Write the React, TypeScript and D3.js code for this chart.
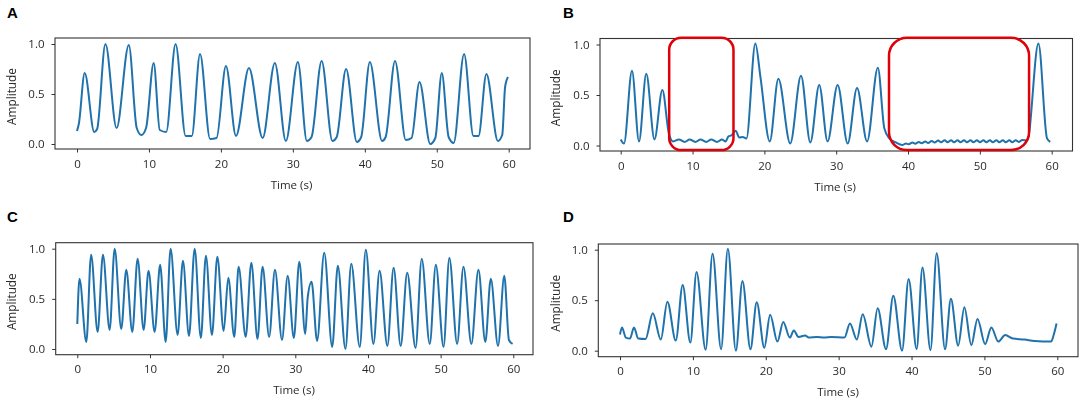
import React, { useEffect, useRef } from "react";
import * as d3 from "d3";

const xTicks = [0, 10, 20, 30, 40, 50, 60];
const yTicks = [0, 0.5, 1];

// panel A: turning points of the trace
const timeA = [0, 0.25, 1.07, 2.4, 2.8, 3.95, 5.5, 7.2, 8.3, 8.95, 9.6, 10.66, 11.5, 12.4, 13.7, 15.1, 15.95, 17.1, 18.5, 19.4, 20.7, 22.1, 23.9, 25.8, 27.5, 29.03, 30.7, 31.95, 32.6, 34, 35.5, 36.1, 37.4, 38.9, 39.5, 40.7, 42.4, 42.9, 44.2, 45.7, 46.5, 47.6, 49.1, 49.8, 50.7, 51.65, 52.35, 53.8, 55.1, 55.8, 56.9, 58.5, 59.1, 59.5, 59.9];
const ampA = [0.13, 0.2, 0.71, 0.12, 0.15, 1.0, 0.16, 0.99, 0.16, 0.09, 0.16, 0.81, 0.14, 0.12, 1.0, 0.08, 0.08, 0.9, 0.05, 0.06, 0.78, 0.08, 0.76, 0.06, 0.81, 0.03, 0.82, 0.03, 0.07, 0.83, 0.03, 0.07, 0.75, 0.02, 0.07, 0.82, 0.03, 0.07, 0.83, 0.04, 0.06, 0.62, 0, 0.06, 0.71, 0.07, 0.01, 0.9, 0.08, 0.08, 0.7, 0.03, 0.09, 0.57, 0.67];

const timeB = [0, 0.46, 1.57, 2.55, 3.56, 4.7, 5.8, 6.7, 7.3, 8.1, 8.9, 9.6, 10.4, 11.1, 11.9, 12.6, 13.4, 14.1, 14.6, 15, 15.4, 16, 16.5, 16.95, 17.5, 18.75, 19.45, 20.75, 21.95, 23.6, 25.1, 26.4, 27.64, 28.8, 30.2, 31.6, 32.9, 34.3, 35.8, 36.7, 37.4, 38.3, 39.2, 39.7, 40.1, 40.6, 41, 41.5, 41.9, 42.4, 42.8, 43.3, 43.7, 44.2, 44.6, 45.1, 45.5, 46, 46.4, 46.9, 47.3, 47.8, 48.2, 48.7, 49.1, 49.6, 50, 50.5, 50.9, 51.4, 51.8, 52.3, 52.7, 53.2, 53.6, 54.1, 54.5, 55, 55.4, 55.9, 56.6, 58.15, 59.35, 59.8];
const ampB = [0.06, 0.02, 0.74, 0.04, 0.71, 0.06, 0.55, 0.12, 0.04, 0.06, 0.035, 0.06, 0.035, 0.06, 0.035, 0.06, 0.035, 0.06, 0.04, 0.09, 0.1, 0.145, 0.08, 0.085, 0.07, 1.01, 0.68, 0.04, 0.66, 0.02, 0.69, 0.03, 0.6, 0.04, 0.6, 0.02, 0.57, 0.04, 0.77, 0.17, 0.07, 0.03, 0.005, 0.02, 0.012, 0.03, 0.018, 0.035, 0.022, 0.04, 0.025, 0.045, 0.03, 0.05, 0.032, 0.052, 0.033, 0.052, 0.033, 0.052, 0.033, 0.052, 0.033, 0.052, 0.033, 0.052, 0.033, 0.052, 0.033, 0.052, 0.033, 0.052, 0.033, 0.052, 0.033, 0.052, 0.033, 0.052, 0.035, 0.055, 0.05, 1.01, 0.07, 0.035];

const timeC = [0, 0.3, 1.24, 1.9, 2.8, 3.53, 4.45, 5.14, 6.05, 6.74, 7.57, 8.3, 9.13, 9.8, 10.64, 11.4, 12.16, 12.84, 13.8, 14.54, 15.37, 16.15, 17, 17.7, 18.53, 19.27, 20.14, 20.78, 21.6, 22.2, 23.17, 23.95, 24.8, 25.5, 26.4, 27.2, 28.17, 28.95, 29.8, 30.55, 31.37, 31.7, 32.24, 33, 33.98, 35.08, 35.85, 36.9, 37.7, 38.87, 39.7, 40.75, 41.6, 42.67, 43.53, 44.5, 45.4, 46.55, 47.4, 48.5, 49.34, 50.4, 51.2, 52.27, 53.14, 54.23, 55.2, 56.15, 56.9, 57.9, 58.76, 59.4, 59.9];
const ampC = [0.25, 0.7, 0.07, 0.94, 0.17, 0.94, 0.19, 1.0, 0.2, 0.79, 0.17, 0.9, 0.19, 0.78, 0.17, 0.84, 0.07, 1.0, 0.14, 0.88, 0.13, 1.0, 0.11, 0.93, 0.14, 0.92, 0.18, 0.71, 0.12, 0.82, 0.12, 0.86, 0.1, 0.82, 0.12, 0.79, 0.09, 0.73, 0.11, 0.87, 0.15, 0.51, 0.67, 0.08, 0.96, 0.02, 0.83, 0, 0.85, 0.02, 0.99, 0.05, 0.78, 0.03, 0.81, 0.03, 0.76, 0.01, 0.9, 0.05, 0.84, 0.02, 0.91, 0.05, 0.82, 0.05, 0.79, 0.07, 0.7, 0.03, 0.73, 0.09, 0.05];

const timeD = [0, 0.27, 0.8, 1.37, 1.92, 2.5, 3.5, 4.5, 5.6, 6.5, 7.65, 8.6, 9.65, 10.5, 11.75, 12.7, 13.87, 14.8, 15.9, 16.8, 17.9, 18.76, 19.8, 20.6, 21.6, 22.4, 23.3, 23.85, 24.5, 25.4, 25.9, 27, 28, 29, 30.8, 31.55, 32.5, 33.3, 34.5, 35.35, 36.5, 37.5, 38.7, 39.6, 40.7, 41.5, 42.6, 43.45, 44.6, 45.4, 46.4, 47.25, 48.2, 49.05, 50.1, 50.95, 51.9, 52.85, 53.9, 55.5, 56.9, 59.15, 59.5, 59.9];
const ampD = [0.16, 0.23, 0.13, 0.12, 0.23, 0.12, 0.115, 0.37, 0.11, 0.485, 0.1, 0.65, 0.08, 0.78, 0.01, 0.96, 0.015, 1.01, 0, 0.69, 0.015, 0.48, 0.03, 0.355, 0.09, 0.285, 0.13, 0.2, 0.135, 0.15, 0.13, 0.135, 0.13, 0.135, 0.13, 0.27, 0.11, 0.36, 0.04, 0.42, 0.015, 0.545, 0, 0.71, 0.015, 0.825, 0.005, 0.965, 0.015, 0.515, 0.05, 0.43, 0.055, 0.315, 0.065, 0.23, 0.09, 0.155, 0.12, 0.11, 0.095, 0.09, 0.155, 0.27];

// red boxes in panel B, as [from, to] seconds
const boxesB = [[6.75, 15.7, 12], [37.35, 56.85, 18]];
const boxAmps = [1.067, -0.045];

const panels = [
  { letter: "A", time: timeA, amp: ampA, boxes: [], frame: [55, 530, 38, 149], xr: [77, 508.7], yr: [144, 44], letterPos: [7, 18], ampX: 15.5, timeX: 291.5, timeY: 189 },
  { letter: "B", time: timeB, amp: ampB, boxes: boxesB, frame: [600, 1072.5, 38.5, 151], xr: [620.7, 1051.7], yr: [145.5, 44.5], letterPos: [563, 18], ampX: 560, timeX: 835, timeY: 191 },
  { letter: "C", time: timeC, amp: ampC, boxes: [], frame: [55.7, 533, 242.7, 354.7], xr: [77.3, 513.3], yr: [349, 248.7], letterPos: [7, 222], ampX: 15.5, timeX: 294, timeY: 394 },
  { letter: "D", time: timeD, amp: ampD, boxes: [], frame: [598.3, 1078, 244, 356.7], xr: [620, 1057.3], yr: [350.7, 249.7], letterPos: [563, 222], ampX: 559.5, timeX: 838, timeY: 396 },
];

const labelFont = "'Open Sans', sans-serif";

export default function App() {
  const ref = useRef<SVGSVGElement>(null);

  useEffect(() => {
    const svg = d3.select(ref.current);
    svg.selectAll("*").remove();

    panels.forEach((p) => {
      const [left, right, top, bottom] = p.frame;
      const x = d3.scaleLinear().domain([0, 60]).range(p.xr);
      const y = d3.scaleLinear().domain([0, 1]).range(p.yr);
      const g = svg.append("g");
      // the reference is a soft, upscaled raster
      const soft = g.append("g").style("filter", "blur(0.35px)");

      const line = d3.line<number>()
        .x((d) => x(d))
        .y((_, i) => y(p.amp[i]))
        .curve(d3.curveMonotoneX);

      soft.append("path")
        .datum(p.time)
        .attr("fill", "none")
        .attr("stroke", "#1f72ac")
        .attr("stroke-width", 2)
        .attr("stroke-linejoin", "round")
        .attr("d", line);

      soft.append("rect")
        .attr("x", left)
        .attr("y", top)
        .attr("width", right - left)
        .attr("height", bottom - top)
        .attr("fill", "none")
        .attr("stroke", "#333")
        .attr("stroke-width", 1.1);

      // axes
      const xAxis = soft.append("g")
        .attr("transform", `translate(0,${bottom})`)
        .call(d3.axisBottom(x).tickValues(xTicks).tickFormat(d3.format("d")).tickSize(3.5).tickPadding(7));
      const yAxis = soft.append("g")
        .attr("transform", `translate(${left},0)`)
        .call(d3.axisLeft(y).tickValues(yTicks).tickFormat(d3.format(".1f")).tickSize(3.5).tickPadding(7));
      [xAxis, yAxis].forEach((a) => {
        a.select(".domain").remove();
        a.selectAll("line").attr("stroke", "#333");
        a.selectAll("text").attr("font-family", labelFont).attr("font-size", 11.5).attr("fill", "#2a2a2a");
      });

      soft.append("text")
        .attr("x", p.timeX)
        .attr("y", p.timeY)
        .attr("text-anchor", "middle")
        .attr("font-family", labelFont)
        .attr("font-size", 11.5)
        .attr("fill", "#2a2a2a")
        .text("Time (s)");

      soft.append("text")
        .attr("transform", `translate(${p.ampX},${(top + bottom) / 2 + 3}) rotate(-90)`)
        .attr("text-anchor", "middle")
        .attr("font-family", labelFont)
        .attr("font-size", 11.8)
        .attr("fill", "#2a2a2a")
        .text("Amplitude");

      g.append("text")
        .attr("x", p.letterPos[0])
        .attr("y", p.letterPos[1])
        .attr("font-family", "'Liberation Sans', sans-serif")
        .attr("font-weight", "bold")
        .attr("font-size", 15)
        .attr("fill", "#000")
        .text(p.letter);

      p.boxes.forEach((b) => {
        g.append("rect")
          .attr("x", x(b[0]))
          .attr("y", y(boxAmps[0]))
          .attr("width", x(b[1]) - x(b[0]))
          .attr("height", y(boxAmps[1]) - y(boxAmps[0]))
          .attr("rx", b[2])
          .attr("fill", "none")
          .attr("stroke", "#e00008")
          .attr("stroke-width", 2.5);
      });
    });
  }, []);

  return (
    <svg
      ref={ref}
      width={1084}
      height={404}
      style={{ position: "absolute", left: 0, top: 0, background: "#fff" }}
    />
  );
}
